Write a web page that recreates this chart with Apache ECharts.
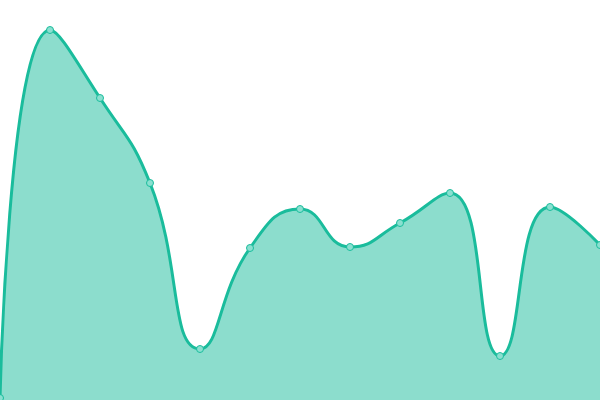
<!DOCTYPE html>
<html>
<head>
<meta charset="utf-8">
<script src="https://cdn.jsdelivr.net/npm/echarts@6/dist/echarts.min.js"></script>
<style>
html,body{margin:0;padding:0;background:#fff}
#chart_main{width:600px;height:400px}
</style>
</head>
<body>
<div id="chart_main"></div>
<script type="text/javascript">
var categories = ['1','2','3','4','5','6','7','8','9','10','11','12','13'];
var values = [2, 370, 302, 217, 51, 152, 191, 153, 177, 207, 44, 193, 155];

var myChart = echarts.init(document.getElementById('chart_main'));
var option = {
    animation: false,
    grid: {left: 0, right: 0, top: 0, bottom: 0},
    xAxis: {type: 'category', data: categories, boundaryGap: false, show: false},
    yAxis: {type: 'value', min: 0, max: 400, show: false},
    series: [{
        type: 'line',
        data: values,
        smooth: 0.5,
        smoothMonotone: 'none',
        symbol: 'circle',
        symbolSize: 7,
        lineStyle: {color: '#1abc9c', width: 3},
        itemStyle: {color: '#8ae0d0', borderColor: '#1abc9c', borderWidth: 1},
        areaStyle: {color: '#1abc9c', opacity: 0.5}
    }]
};
myChart.setOption(option);
</script>
</body>
</html>
